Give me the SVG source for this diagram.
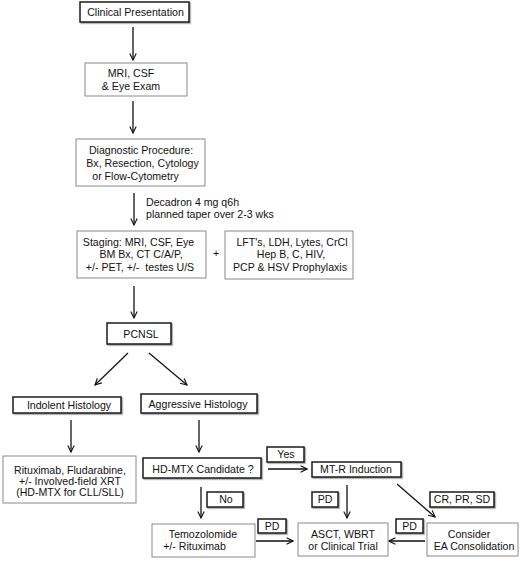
<svg xmlns="http://www.w3.org/2000/svg" width="520" height="562" viewBox="0 0 520 562">
<defs>
<style>
text{font-family:"Liberation Sans",Arial,Helvetica,sans-serif;font-size:10.6px;fill:#111;text-anchor:middle}
.lt{fill:#fff;stroke:#8a8a8a;stroke-width:1}
.dk{fill:#fff;stroke:#1a1a1a;stroke-width:1.5;filter:url(#sh)}
.cn line{stroke:#111;stroke-width:1.3;fill:none;marker-end:url(#ah)}
</style>
<filter id="sh" x="-10%" y="-30%" width="130%" height="180%">
<feDropShadow dx="1.2" dy="1.2" stdDeviation="0.6" flood-color="#000" flood-opacity="0.35"/>
</filter>
<marker id="ah" viewBox="0 0 10 10" refX="9" refY="5" markerWidth="8" markerHeight="8" markerUnits="userSpaceOnUse" orient="auto">
<path d="M1,1 L9,5 L1,9" fill="none" stroke="#111" stroke-width="1.4"/>
</marker>
</defs>
<rect width="520" height="562" fill="#fff"/>
<g class="cn" id="connectors">
<line x1="133" y1="27" x2="133" y2="60"/>
<line x1="133" y1="101" x2="133" y2="133"/>
<line x1="134" y1="193" x2="134" y2="225"/>
<line x1="134" y1="286" x2="134" y2="318"/>
<line x1="128" y1="353" x2="95" y2="385"/>
<line x1="149" y1="353" x2="187" y2="385"/>
<line x1="71" y1="420" x2="71" y2="452"/>
<line x1="199" y1="420" x2="199" y2="452"/>
<line x1="268" y1="469" x2="307" y2="469"/>
<line x1="201" y1="487" x2="201" y2="518"/>
<line x1="256" y1="541" x2="293" y2="541"/>
<line x1="347" y1="485" x2="347" y2="518"/>
<line x1="397" y1="484" x2="435" y2="517"/>
<line x1="425" y1="541" x2="389" y2="541"/>
</g>
<g id="n-clinical"><rect class="dk" x="80" y="2" width="109" height="20"/><text x="135.5" y="16">Clinical Presentation</text></g>
<g id="n-mri"><rect class="lt" x="85" y="63" width="102" height="33"/><text x="131" y="77">MRI, CSF</text><text x="131" y="90">&amp; Eye Exam</text></g>
<g id="n-diag"><rect class="lt" x="76" y="139" width="129" height="47"/><text x="141" y="154">Diagnostic Procedure:</text><text x="142.5" y="167">Bx, Resection, Cytology</text><text x="135.5" y="180">or Flow-Cytometry</text></g>
<g id="n-decadron"><text x="146" y="206" style="text-anchor:start">Decadron 4 mg q6h</text><text x="146" y="218" style="text-anchor:start">planned taper over 2-3 wks</text></g>
<g id="n-staging"><rect class="lt" x="77" y="231" width="129" height="47"/><text x="138.5" y="246">Staging: MRI, CSF, Eye</text><text x="141" y="258">BM Bx, CT C/A/P,</text><text x="140" y="271" xml:space="preserve">+/- PET, +/-  testes U/S</text></g>
<g id="n-plus"><text x="216" y="257">+</text></g>
<g id="n-labs"><rect class="lt" x="225" y="231" width="128" height="48"/><text x="292" y="246">LFT's, LDH, Lytes, CrCl</text><text x="291" y="258">Hep B, C, HIV,</text><text x="290" y="271">PCP &amp; HSV Prophylaxis</text></g>
<g id="n-pcnsl"><rect class="dk" x="107" y="323" width="64" height="21"/><text x="141" y="338">PCNSL</text></g>
<g id="n-indolent"><rect class="dk" x="13" y="397" width="108" height="16"/><text x="69" y="409">Indolent Histology</text></g>
<g id="n-aggressive"><rect class="dk" x="141" y="394" width="116" height="19"/><text x="198" y="408">Aggressive Histology</text></g>
<g id="n-ritux"><rect class="lt" x="3" y="456" width="133" height="47"/><text x="70" y="474">Rituximab, Fludarabine,</text><text x="70" y="485">+/- Involved-field XRT</text><text x="70" y="496">(HD-MTX for CLL/SLL)</text></g>
<g id="n-hdmtx"><rect class="dk" x="143" y="458" width="118" height="20"/><text x="203" y="473">HD-MTX Candidate ?</text></g>
<g id="n-yes"><rect class="dk" x="267" y="447" width="37" height="15"/><text x="286" y="458">Yes</text></g>
<g id="n-mtr"><rect class="dk" x="312" y="462" width="89" height="15"/><text x="356" y="473">MT-R Induction</text></g>
<g id="n-no"><rect class="dk" x="207" y="492" width="36" height="15"/><text x="226" y="503">No</text></g>
<g id="n-pd2"><rect class="dk" x="312" y="492" width="26" height="15"/><text x="325" y="503">PD</text></g>
<g id="n-cr"><rect class="dk" x="430" y="492" width="64" height="15"/><text x="462" y="503">CR, PR, SD</text></g>
<g id="n-temo"><rect class="lt" x="152" y="524" width="103" height="33"/><text x="203" y="538">Temozolomide</text><text x="194.5" y="550">+/- Rituximab</text></g>
<g id="n-pd1"><rect class="dk" x="258" y="519" width="28" height="14"/><text x="272" y="530">PD</text></g>
<g id="n-asct"><rect class="lt" x="298" y="523" width="90" height="33"/><text x="343" y="538">ASCT, WBRT</text><text x="343" y="550">or Clinical Trial</text></g>
<g id="n-pd3"><rect class="dk" x="396" y="519" width="27" height="14"/><text x="409.5" y="530">PD</text></g>
<g id="n-consider"><rect class="lt" x="427" y="523" width="91" height="33"/><text x="469" y="538">Consider</text><text x="474" y="550">EA Consolidation</text></g>
</svg>
